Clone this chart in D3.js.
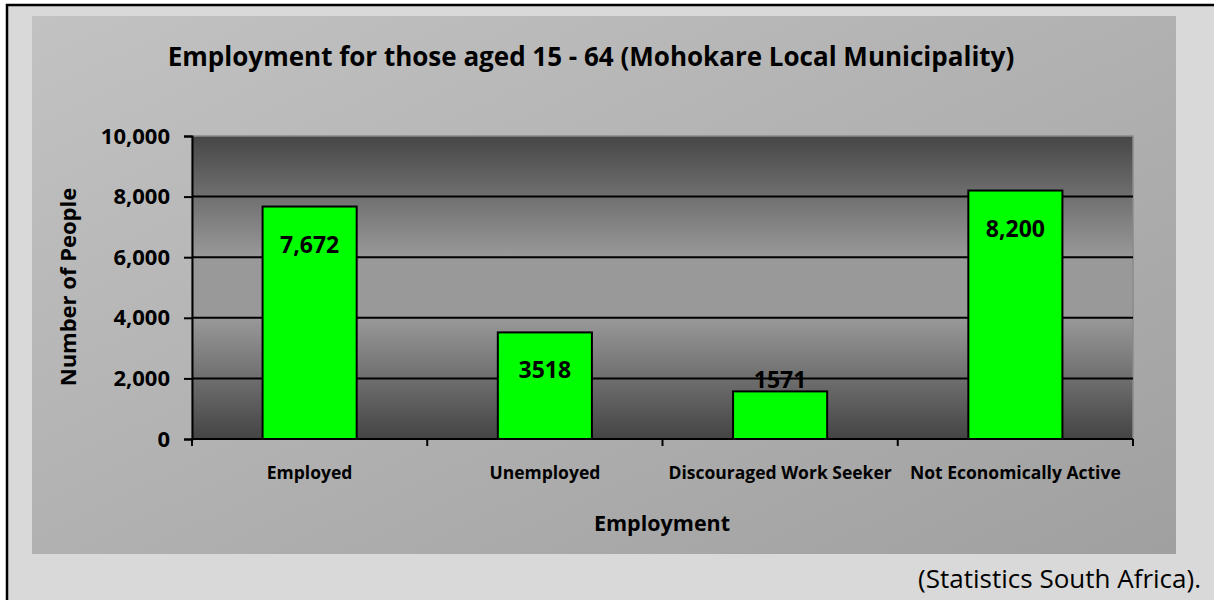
<!DOCTYPE html>
<html>
<head>
<meta charset="utf-8">
<script src="https://cdn.jsdelivr.net/npm/d3@7"></script>
<style>
  body { margin: 0; background: #ffffff; }
  svg text { font-family: "Open Sans", Lato, sans-serif; fill: #000; }
</style>
</head>
<body>
<svg id="chart" width="1214" height="600"></svg>
<script>
// ----- data -----
const categories = ["Employed", "Unemployed", "Discouraged Work Seeker", "Not Economically Active"];
const counts = [7672, 3518, 1571, 8200];
const countLabels = ["7,672", "3518", "1571", "8,200"];
const yTicks = [0, 2000, 4000, 6000, 8000, 10000];

const titleText = "Employment for those aged 15 - 64 (Mohokare Local Municipality)";
const yTitle = "Number of People";
const xTitle = "Employment";
const sourceText = "(Statistics South Africa).";

const svg = d3.select("svg#chart");
const defs = svg.append("defs");

// chart area background: light grey diagonal
const areaGrad = defs.append("linearGradient")
    .attr("id", "areaGrad")
    .attr("x1", "0%").attr("y1", "0%")
    .attr("x2", "100%").attr("y2", "100%");
areaGrad.append("stop").attr("offset", "0%").attr("stop-color", "#c2c2c2");
areaGrad.append("stop").attr("offset", "100%").attr("stop-color", "#a0a0a0");

// plot area: dark top and bottom, light in the middle
const plotGrad = defs.append("linearGradient")
    .attr("id", "plotGrad")
    .attr("x1", "0%").attr("y1", "0%")
    .attr("x2", "0%").attr("y2", "100%");
plotGrad.append("stop").attr("offset", "0%").attr("stop-color", "#464646");
plotGrad.append("stop").attr("offset", "40%").attr("stop-color", "#999999");
plotGrad.append("stop").attr("offset", "60%").attr("stop-color", "#999999");
plotGrad.append("stop").attr("offset", "100%").attr("stop-color", "#444444");

// outer page frame (right/bottom edges run off the canvas)
svg.append("rect")
    .attr("x", 7).attr("y", 5)
    .attr("width", 1220).attr("height", 610)
    .attr("fill", "#d9d9d9")
    .attr("stroke", "#000")
    .attr("stroke-width", 2.5);

svg.append("rect")
    .attr("x", 32).attr("y", 16)
    .attr("width", 1144).attr("height", 538)
    .attr("fill", "url(#areaGrad)");

const plot = { left: 192, top: 136, right: 1133, bottom: 439 };

const x = d3.scaleBand()
    .domain(categories)
    .range([plot.left, plot.right])
    .paddingInner(0.6)
    .paddingOuter(0.3);

const y = d3.scaleLinear()
    .domain([0, 10000])
    .range([plot.bottom, plot.top]);

// plot background
svg.append("rect")
    .attr("x", plot.left).attr("y", plot.top)
    .attr("width", plot.right - plot.left).attr("height", plot.bottom - plot.top)
    .attr("fill", "url(#plotGrad)")
    .attr("stroke", "#8a8a8a")
    .attr("stroke-width", 1.5);

// gridlines
svg.append("g")
    .selectAll("line.grid")
    .data(yTicks.filter(d => d > 0 && d < 10000))
    .join("line")
    .attr("class", "grid")
    .attr("x1", plot.left).attr("x2", plot.right)
    .attr("y1", d => y(d)).attr("y2", d => y(d))
    .attr("stroke", "#000")
    .attr("stroke-width", 2);

// bars
svg.append("g")
    .selectAll("rect.bar")
    .data(counts)
    .join("rect")
    .attr("class", "bar")
    .attr("x", (d, i) => x(categories[i]))
    .attr("y", d => y(d))
    .attr("width", x.bandwidth())
    .attr("height", d => y(0) - y(d))
    .attr("fill", "#00ff00")
    .attr("stroke", "#000")
    .attr("stroke-width", 2);

// data labels (inside the bar, above it when the bar is short)
svg.append("g")
    .selectAll("text.lbl")
    .data(counts)
    .join("text")
    .attr("class", "lbl")
    .attr("x", (d, i) => x(categories[i]) + x.bandwidth() / 2)
    .attr("y", d => d < 2000 ? y(d) - 3 : y(d) + 46)
    .attr("text-anchor", "middle")
    .attr("font-size", 23)
    .attr("font-weight", "bold")
    .text((d, i) => countLabels[i]);

// y axis
const yAxis = svg.append("g")
    .attr("transform", `translate(${plot.left},0)`)
    .call(d3.axisLeft(y).tickValues(yTicks).tickFormat(d3.format(",")).tickSize(8).tickPadding(14));
yAxis.select(".domain").attr("stroke", "#000").attr("stroke-width", 2);
yAxis.selectAll(".tick line").attr("stroke", "#000").attr("stroke-width", 2);
yAxis.selectAll(".tick text")
    .attr("font-size", 22).attr("font-weight", "bold")
    .attr("font-family", "'Open Sans', sans-serif").attr("fill", "#000");

// x axis: ticks at category boundaries
const boundaries = d3.range(categories.length + 1).map(i => plot.left + i * (plot.right - plot.left) / categories.length);
const xAxisG = svg.append("g");
xAxisG.append("line")
    .attr("x1", plot.left).attr("x2", plot.right)
    .attr("y1", plot.bottom).attr("y2", plot.bottom)
    .attr("stroke", "#000").attr("stroke-width", 2);
xAxisG.selectAll("line.xt")
    .data(boundaries)
    .join("line")
    .attr("class", "xt")
    .attr("x1", d => d).attr("x2", d => d)
    .attr("y1", plot.bottom).attr("y2", plot.bottom + 7)
    .attr("stroke", "#000").attr("stroke-width", 2);
xAxisG.selectAll("text.cat")
    .data(categories)
    .join("text")
    .attr("class", "cat")
    .attr("x", d => x(d) + x.bandwidth() / 2)
    .attr("y", 479)
    .attr("text-anchor", "middle")
    .attr("font-size", 17.5)
    .attr("font-weight", "bold")
    .text(d => d);

// titles
svg.append("text")
    .attr("x", 591).attr("y", 66)
    .attr("text-anchor", "middle")
    .attr("font-size", 26)
    .attr("font-weight", "bold")
    .text(titleText);

svg.append("text")
    .attr("x", 662).attr("y", 531)
    .attr("text-anchor", "middle")
    .attr("font-size", 21.5)
    .attr("font-weight", "bold")
    .text(xTitle);

svg.append("text")
    .attr("transform", "translate(76,287) rotate(-90)")
    .attr("text-anchor", "middle")
    .attr("font-size", 22)
    .attr("font-weight", "bold")
    .text(yTitle);

svg.append("text")
    .attr("x", 1201).attr("y", 588)
    .attr("text-anchor", "end")
    .attr("font-size", 26)
    .text(sourceText);
</script>
</body>
</html>
